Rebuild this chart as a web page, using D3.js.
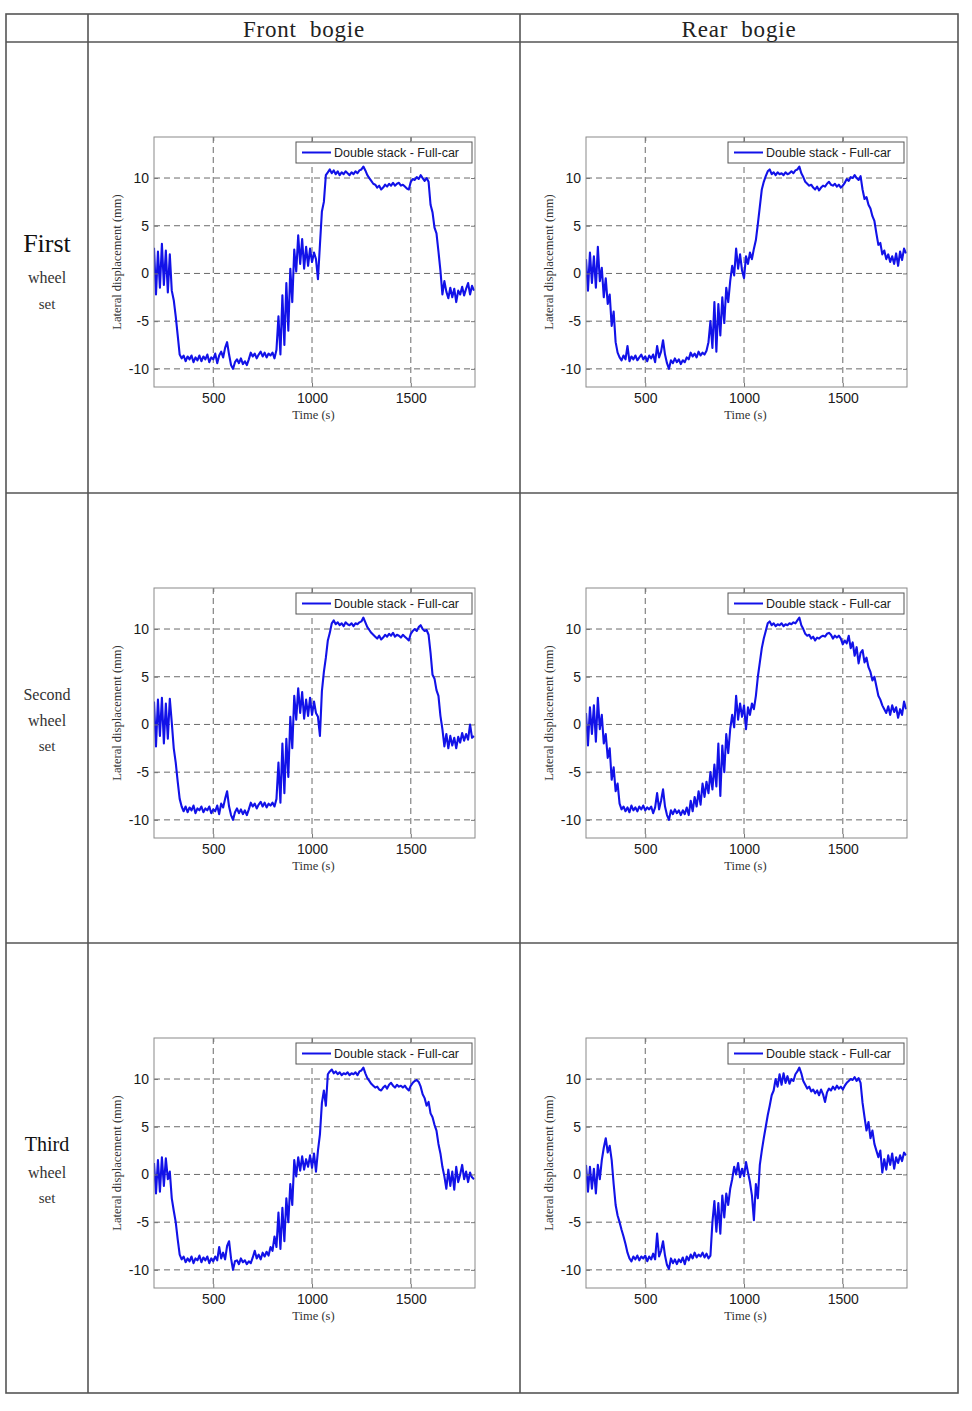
<!DOCTYPE html>
<html><head><meta charset="utf-8">
<script src="https://cdn.jsdelivr.net/npm/d3@7"></script>
<style>body{margin:0;background:#fff;} svg{display:block}</style>
</head><body><svg id="c" width="972" height="1411"></svg>
<script>
// ---------- DATA ----------
const columnLabels = ["Front  bogie", "Rear  bogie"];
const rowLabels = [["First", "wheel", "set"], ["Second", "wheel", "set"], ["Third", "wheel", "set"]];
const xTicks = [500, 1000, 1500];
const yTicks = [-10, -5, 0, 5, 10];
const xLabel = "Time (s)";
const yLabel = "Lateral displacement (mm)";
const legendLabel = "Double stack - Full-car";

const timeSec = [
200,210,220,230,240,250,260,270,280,290,
300,310,320,330,340,350,360,370,380,390,
400,410,420,430,440,450,460,470,480,490,
500,510,520,530,540,550,560,570,580,590,
600,610,620,630,640,650,660,670,680,690,
700,710,720,730,740,750,760,770,780,790,
800,810,820,830,840,850,860,870,880,890,
900,910,920,930,940,950,960,970,980,990,
1000,1010,1020,1030,1040,1050,1060,1070,1080,1090,
1100,1110,1120,1130,1140,1150,1160,1170,1180,1190,
1200,1210,1220,1230,1240,1250,1260,1270,1280,1290,
1300,1310,1320,1330,1340,1350,1360,1370,1380,1390,
1400,1410,1420,1430,1440,1450,1460,1470,1480,1490,
1500,1510,1520,1530,1540,1550,1560,1570,1580,1590,
1600,1610,1620,1630,1640,1650,1660,1670,1680,1690,
1700,1710,1720,1730,1740,1750,1760,1770,1780,1790,
1800,1810,1820];

const frontFirst = [
2.7,-2.2,2.3,-1.5,3.1,-1.2,2.4,-2.0,2.0,-1.8,
-2.8,-4.5,-6.5,-8.5,-8.9,-8.6,-9.2,-8.7,-9.0,-8.6,
-9.3,-8.8,-9.1,-8.6,-9.2,-8.7,-9.0,-8.5,-9.3,-8.8,
-9.0,-8.4,-9.4,-8.6,-8.2,-8.8,-7.8,-7.2,-8.5,-9.6,
-10.0,-9.3,-9.0,-9.4,-8.9,-9.5,-9.2,-9.6,-9.0,-8.3,
-8.7,-8.4,-8.9,-8.5,-8.2,-8.7,-8.3,-8.8,-8.4,-8.6,
-8.3,-8.9,-8.0,-4.5,-8.5,-2.3,-7.5,-1.0,-6.0,0.5,
-3.0,2.5,0.2,4.0,1.0,3.6,0.5,2.8,0.8,2.6,
1.2,2.2,1.5,-0.6,3.0,6.5,7.5,10.3,10.6,10.9,
10.5,10.8,10.4,10.7,10.3,10.6,10.4,10.7,10.5,10.3,
10.6,10.4,10.7,10.5,10.8,10.9,11.2,10.8,10.3,10.0,
9.7,9.4,9.3,9.0,9.2,8.8,9.0,9.3,9.1,9.4,
9.2,9.5,9.2,9.4,9.5,9.2,9.3,9.1,8.9,8.8,
9.6,9.9,9.8,10.1,9.9,10.3,10.0,9.7,10.0,9.6,
7.2,6.4,4.8,4.2,2.3,0.3,-2.2,-0.8,-1.9,-2.6,
-1.5,-2.5,-1.6,-3.0,-1.8,-2.2,-1.4,-2.3,-1.6,-1.0,
-2.2,-1.3,-1.8];

const rearFirst = [
1.5,-1.8,2.2,-1.0,1.8,-1.5,2.8,-0.8,0.6,-2.5,
-0.5,-3.2,-2.2,-5.5,-4.0,-7.2,-8.3,-8.8,-9.1,-8.6,
-9.0,-7.6,-9.2,-8.7,-9.0,-8.6,-9.1,-8.8,-8.5,-9.0,
-8.7,-9.2,-8.6,-8.9,-8.5,-9.3,-7.6,-8.8,-8.2,-7.0,
-8.5,-9.4,-10.0,-9.1,-9.4,-8.9,-9.3,-9.0,-9.5,-9.1,
-9.3,-8.8,-9.0,-8.3,-8.7,-8.4,-8.8,-8.2,-8.6,-8.3,
-8.5,-8.1,-7.2,-5.0,-7.8,-3.0,-8.2,-3.2,-6.5,-2.5,
-5.2,-1.5,-3.0,-0.8,0.8,-0.2,2.6,0.5,2.0,0.3,
-0.5,1.8,1.0,2.2,1.5,2.6,3.5,5.2,7.0,8.8,
9.6,10.2,10.7,10.9,10.4,10.6,10.3,10.6,10.4,10.5,
10.3,10.6,10.4,10.5,10.7,10.5,10.8,10.9,11.2,10.5,
10.1,9.6,9.4,9.2,9.3,9.0,8.8,9.1,8.7,9.0,
9.2,9.1,9.4,9.6,9.3,9.2,9.4,9.1,9.3,9.0,
9.2,9.5,9.9,9.7,10.1,10.0,10.3,10.0,9.8,10.2,
8.8,7.8,8.0,7.2,6.8,6.0,5.5,4.2,3.0,3.2,
2.0,2.4,1.5,2.0,1.2,1.8,1.0,2.1,0.8,2.3,
1.4,2.6,2.1];

const frontSecond = [
2.4,-2.3,2.6,-1.2,2.8,-2.0,2.2,-1.5,2.7,0.2,
-2.5,-4.0,-6.0,-7.8,-8.6,-9.1,-8.6,-9.2,-8.7,-9.0,
-8.5,-9.3,-8.8,-9.0,-8.6,-9.2,-8.8,-9.0,-8.6,-9.3,
-8.9,-9.1,-8.5,-9.4,-8.3,-8.7,-7.8,-7.0,-8.6,-9.5,
-10.0,-9.2,-8.8,-9.3,-8.9,-9.4,-9.0,-9.5,-8.9,-8.2,
-8.6,-8.3,-8.8,-8.4,-8.1,-8.6,-8.2,-8.7,-8.3,-8.5,
-8.2,-8.6,-7.8,-4.0,-8.2,-2.0,-7.2,-1.5,-5.5,0.8,
-2.5,3.0,0.5,3.8,1.2,3.4,0.6,2.6,0.9,2.8,
1.0,2.4,1.2,0.8,-1.2,3.5,5.5,7.0,8.8,9.6,
10.6,10.9,10.5,10.7,10.4,10.6,10.3,10.7,10.5,10.4,
10.6,10.3,10.6,10.5,10.7,10.8,11.2,10.7,10.2,9.9,
9.6,9.4,9.2,9.0,9.3,8.9,9.1,9.4,9.2,9.5,
9.3,9.6,9.2,9.4,9.3,9.1,9.4,9.2,9.0,8.8,
9.5,9.8,10.0,9.8,10.2,10.4,10.0,9.8,9.9,9.4,
7.5,5.2,4.8,3.6,3.0,0.9,-0.5,-2.3,-1.0,-2.5,
-1.2,-2.2,-1.4,-2.5,-1.3,-1.9,-0.9,-1.7,-1.0,-1.6,
0.0,-1.4,-1.2];

const rearSecond = [
1.2,-2.2,1.8,-1.0,2.0,-1.8,2.8,-0.5,1.0,-2.0,
-1.0,-3.5,-2.5,-5.8,-4.5,-7.0,-6.2,-8.3,-8.9,-8.6,
-9.1,-8.7,-9.2,-8.5,-9.0,-8.7,-9.1,-8.6,-8.9,-8.5,
-9.0,-8.7,-8.9,-8.6,-9.3,-8.7,-7.2,-8.9,-8.0,-6.8,
-8.6,-9.5,-10.0,-9.0,-9.4,-8.9,-9.3,-9.0,-9.5,-9.0,
-9.4,-8.7,-9.5,-8.0,-9.1,-7.6,-8.6,-7.0,-8.4,-6.2,
-7.6,-6.0,-7.2,-5.0,-6.8,-4.2,-6.5,-2.0,-7.5,-2.2,
-5.0,-1.0,-3.0,-0.5,1.0,-0.3,3.0,0.5,2.2,0.8,
2.0,-0.5,1.8,1.0,2.2,1.6,3.0,5.0,6.5,8.0,
9.0,9.8,10.6,10.8,10.4,10.6,10.3,10.5,10.4,10.6,
10.3,10.5,10.4,10.6,10.5,10.7,10.6,10.9,11.2,10.4,
10.0,9.5,9.3,9.4,9.0,9.2,8.8,9.1,9.0,9.2,
9.3,9.2,9.5,9.6,9.4,9.0,9.3,9.1,9.3,9.0,
8.4,8.8,8.5,9.3,8.0,8.6,7.2,8.1,6.4,7.5,
7.8,6.5,7.0,6.0,5.5,4.6,5.0,4.0,3.0,2.6,
2.0,1.6,1.2,1.9,1.0,2.0,1.3,1.8,0.7,1.6,
1.0,2.4,1.6];

const frontThird = [
1.2,-2.0,1.5,-1.8,1.8,-1.2,1.7,-0.5,0.3,-2.5,
-3.8,-5.0,-6.8,-8.4,-8.9,-8.6,-9.2,-8.8,-9.1,-8.6,
-9.3,-8.8,-9.0,-8.5,-9.2,-8.7,-9.0,-8.6,-9.3,-8.8,
-9.1,-8.6,-9.0,-7.6,-8.8,-8.2,-8.9,-7.5,-7.0,-8.8,
-10.0,-9.1,-9.0,-9.4,-8.8,-9.2,-9.0,-9.4,-9.1,-9.3,
-8.7,-8.0,-8.8,-8.4,-8.9,-8.2,-8.6,-8.1,-8.5,-7.6,
-8.0,-6.5,-7.6,-4.0,-7.8,-3.5,-7.0,-2.5,-5.0,-1.0,
-3.2,1.5,-0.2,1.8,0.4,1.9,0.5,1.6,0.8,2.0,
0.7,2.2,0.3,2.5,4.2,7.5,8.8,7.2,10.5,10.8,
11.0,10.6,10.8,10.5,10.7,10.4,10.6,10.5,10.7,10.4,
10.6,10.5,10.7,10.4,10.8,10.9,11.2,10.6,10.1,9.8,
9.5,9.3,9.1,9.2,8.9,8.8,9.1,9.3,9.0,9.4,
9.6,9.3,9.1,9.4,9.2,9.3,9.1,9.3,9.0,8.8,
9.3,9.6,9.8,9.9,9.7,9.2,8.4,8.0,7.2,7.6,
6.4,6.0,5.2,4.6,3.2,2.2,0.8,-0.2,-1.5,0.5,
-1.2,0.3,-1.6,0.8,-0.8,0.0,1.0,-0.5,0.3,-0.8,
0.2,-0.3,-0.5];

const rearThird = [
1.0,-1.8,0.8,-1.5,0.6,-2.0,1.0,-0.5,1.5,2.8,
3.8,2.3,3.0,1.5,-1.0,-3.2,-4.3,-5.0,-5.8,-6.5,
-7.3,-8.2,-8.8,-9.1,-8.6,-8.9,-8.5,-9.0,-8.6,-8.8,
-8.5,-9.1,-8.6,-8.9,-8.3,-8.9,-6.2,-8.6,-8.0,-7.0,
-8.5,-9.5,-9.9,-8.8,-9.3,-8.9,-9.4,-8.9,-9.2,-8.7,
-9.4,-8.6,-9.0,-8.4,-8.8,-8.2,-8.7,-8.4,-8.6,-8.2,
-8.7,-8.3,-8.8,-8.5,-5.0,-2.8,-6.0,-3.0,-6.2,-2.2,
-4.5,-2.0,-3.2,-1.5,-0.5,0.8,0.0,1.2,-0.3,0.6,
-0.2,1.3,0.2,-0.8,-2.2,-4.8,-1.0,-2.5,1.0,2.5,
3.8,5.0,6.2,7.2,8.3,8.8,10.0,9.2,10.5,9.4,
10.6,9.6,10.3,9.5,10.0,9.8,10.5,10.8,11.2,10.6,
9.8,9.4,9.0,9.2,8.7,8.9,8.5,8.8,8.3,8.9,
8.4,7.6,8.6,9.0,8.8,9.2,8.9,9.3,9.0,9.2,
8.9,9.3,9.6,9.8,10.0,9.9,10.2,9.8,10.1,9.6,
7.5,6.0,4.6,5.5,3.8,4.6,3.2,2.5,1.8,2.5,
0.2,1.6,0.5,2.0,1.0,2.2,0.6,1.8,1.2,2.0,
1.4,2.3,2.0];

const seriesGrid = [[frontFirst, rearFirst], [frontSecond, rearSecond], [frontThird, rearThird]];

// ---------- LAYOUT ----------
const svg = d3.select("#c");
svg.append("rect").attr("width", 972).attr("height", 1411).attr("fill", "#fff");

const colX = [6, 88, 520, 958];
const tableTop = 14;
const rowY = [42, 493, 943, 1393];
const serif = "'Liberation Serif','DejaVu Serif',serif";
const sans = "'Liberation Sans',Arial,sans-serif";

// table lines
const tbl = svg.append("g").attr("stroke", "#555").attr("stroke-width", 1.6).attr("fill", "none");
tbl.append("rect").attr("x", colX[0]).attr("y", tableTop).attr("width", colX[3] - colX[0]).attr("height", rowY[3] - tableTop);
rowY.slice(0, 3).forEach(yv => tbl.append("line").attr("x1", colX[0]).attr("x2", colX[3]).attr("y1", yv).attr("y2", yv));
[colX[1], colX[2]].forEach(xv => tbl.append("line").attr("x1", xv).attr("x2", xv).attr("y1", tableTop).attr("y2", rowY[3]));

// column headers
columnLabels.forEach((lab, i) => {
  svg.append("text").attr("x", (colX[i + 1] + colX[i + 2]) / 2).attr("y", 37)
    .attr("text-anchor", "middle").attr("font-family", serif).attr("font-size", 23)
    .attr("letter-spacing", 0.8)
    .attr("fill", "#222").style("white-space", "pre").text(lab);
});

// row labels
const rowLabelSizes = [[26, 16, 15], [16, 16, 15], [20, 16, 15]];
const rowLabelOffsets = [[-25, 10, 36], [-24, 2, 28], [-24, 4, 30]];
rowLabels.forEach((labs, r) => {
  const cy = (rowY[r] + rowY[r + 1]) / 2;
  labs.forEach((lab, k) => {
    svg.append("text").attr("x", (colX[0] + colX[1]) / 2).attr("y", cy + rowLabelOffsets[r][k] + rowLabelSizes[r][k] * 0.35)
      .attr("text-anchor", "middle").attr("font-family", serif).attr("font-size", rowLabelSizes[r][k])
      .attr("fill", k === 0 && r !== 1 ? "#111" : "#333").text(lab);
  });
});

// plots
const pw = 321, ph = 250;
const defs = svg.append("defs");
const fmt = d => String(d);
seriesGrid.forEach((rowSeries, r) => {
  rowSeries.forEach((vals, c) => {
    const px = colX[c + 1] + 66;
    const py = rowY[r] + 95;
    const x = d3.scaleLinear().domain([200, 1825]).range([0, pw]);
    const y = d3.scaleLinear().domain([-11.9, 14.3]).range([ph, 0]);
    const g = svg.append("g").attr("transform", `translate(${px},${py})`);
    const clipId = `clip${r}${c}`;
    defs.append("clipPath").attr("id", clipId).append("rect").attr("width", pw).attr("height", ph);

    // grid
    const grid = g.append("g").attr("stroke", "#6a6a6a").attr("stroke-width", 1).attr("stroke-dasharray", "6,4");
    xTicks.forEach(t => grid.append("line").attr("x1", x(t)).attr("x2", x(t)).attr("y1", 0).attr("y2", ph));
    yTicks.forEach(t => grid.append("line").attr("x1", 0).attr("x2", pw).attr("y1", y(t)).attr("y2", y(t)));

    // line
    const line = d3.line().x((d, i) => x(timeSec[i])).y(d => y(d));
    g.append("path").datum(vals).attr("clip-path", `url(#${clipId})`)
      .attr("d", line).attr("fill", "none").attr("stroke", "#1212e8").attr("stroke-width", 2.1)
      .attr("stroke-linejoin", "round");

    // axes
    const axB = g.append("g").attr("transform", `translate(0,${ph})`)
      .call(d3.axisBottom(x).tickValues(xTicks).tickSize(-4).tickPadding(6).tickFormat(fmt));
    const axT = g.append("g").call(d3.axisTop(x).tickValues(xTicks).tickSize(-4).tickFormat(""));
    const axL = g.append("g").call(d3.axisLeft(y).tickValues(yTicks).tickSize(-4).tickPadding(5).tickFormat(fmt));
    const axR = g.append("g").attr("transform", `translate(${pw},0)`).call(d3.axisRight(y).tickValues(yTicks).tickSize(-4).tickFormat(""));
    [axB, axT, axL, axR].forEach(a => {
      a.select(".domain").remove();
      a.selectAll("line").attr("stroke", "#777");
      a.selectAll("text").attr("font-family", sans).attr("font-size", 14).attr("fill", "#1a1a1a");
    });
    g.append("rect").attr("width", pw).attr("height", ph).attr("fill", "none").attr("stroke", "#8a8a8a").attr("stroke-width", 1);

    // labels
    g.append("text").attr("x", pw / 2 - 1).attr("y", ph + 32).attr("text-anchor", "middle")
      .attr("font-family", serif).attr("font-size", 12.5).attr("fill", "#333").text(xLabel);
    g.append("text").attr("transform", `translate(-33,${ph / 2}) rotate(-90)`).attr("text-anchor", "middle")
      .attr("font-family", serif).attr("font-size", 12.5).attr("fill", "#333").text(yLabel);

    // legend
    const lg = g.append("g").attr("transform", `translate(${pw - 179},5)`);
    lg.append("rect").attr("width", 176).attr("height", 21).attr("fill", "#fff").attr("stroke", "#555").attr("stroke-width", 1);
    lg.append("line").attr("x1", 6).attr("x2", 35).attr("y1", 10.5).attr("y2", 10.5).attr("stroke", "#1212e8").attr("stroke-width", 2);
    lg.append("text").attr("x", 38).attr("y", 15).attr("font-family", sans).attr("font-size", 12.5).attr("fill", "#222").text(legendLabel);
  });
});
</script></body></html>
